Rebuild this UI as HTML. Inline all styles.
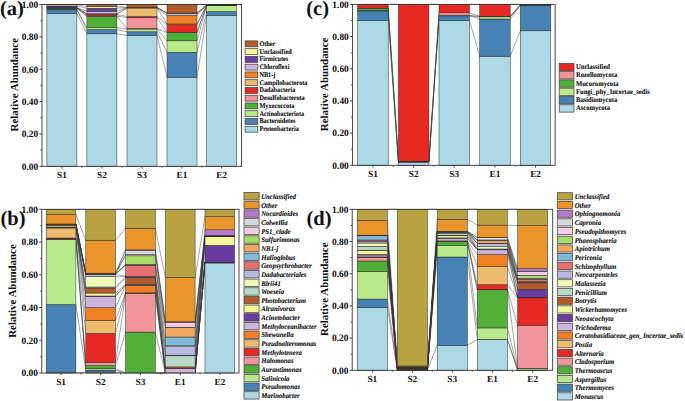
<!DOCTYPE html>
<html><head><meta charset="utf-8"><title>Relative Abundance</title>
<style>
html,body{margin:0;padding:0;background:#fff;}
body{width:685px;height:401px;overflow:hidden;}
svg{display:block;text-rendering:geometricPrecision;}
text{font-family:"Liberation Serif",serif;font-weight:bold;fill:#111;}
.lg text{stroke:#111;stroke-width:0.12px;}
</style></head>
<body>
<svg width="685" height="401" viewBox="0 0 685 401">
<rect width="685" height="401" fill="#fff"/>
<g stroke="#3a3a3a" stroke-width="0.45" fill="none"><line x1="76.9" y1="13.5" x2="86.9" y2="33.8"/><line x1="76.9" y1="9.8" x2="86.9" y2="29.6"/><line x1="76.9" y1="9.5" x2="86.9" y2="27.6"/><line x1="76.9" y1="8.1" x2="86.9" y2="16.6"/><line x1="76.9" y1="8" x2="86.9" y2="16"/><line x1="76.9" y1="7.9" x2="86.9" y2="14.4"/><line x1="76.9" y1="7.8" x2="86.9" y2="14.1"/><line x1="76.9" y1="7.7" x2="86.9" y2="13.8"/><line x1="76.9" y1="7.6" x2="86.9" y2="11.2"/><line x1="76.9" y1="6" x2="86.9" y2="8.2"/><line x1="76.9" y1="4.8" x2="86.9" y2="6.5"/><line x1="76.9" y1="4.5" x2="86.9" y2="4.5"/><line x1="116.9" y1="33.8" x2="127" y2="35.5"/><line x1="116.9" y1="29.6" x2="127" y2="31.8"/><line x1="116.9" y1="27.6" x2="127" y2="29"/><line x1="116.9" y1="16.6" x2="127" y2="28.5"/><line x1="116.9" y1="16" x2="127" y2="17.8"/><line x1="116.9" y1="14.4" x2="127" y2="16.5"/><line x1="116.9" y1="14.1" x2="127" y2="8"/><line x1="116.9" y1="13.8" x2="127" y2="7.8"/><line x1="116.9" y1="11.2" x2="127" y2="7.6"/><line x1="116.9" y1="8.2" x2="127" y2="7.5"/><line x1="116.9" y1="6.5" x2="127" y2="7.4"/><line x1="116.9" y1="4.5" x2="127" y2="4.5"/><line x1="157" y1="35.5" x2="167" y2="77.2"/><line x1="157" y1="31.8" x2="167" y2="52.3"/><line x1="157" y1="29" x2="167" y2="40.8"/><line x1="157" y1="28.5" x2="167" y2="32.5"/><line x1="157" y1="17.8" x2="167" y2="32.2"/><line x1="157" y1="16.5" x2="167" y2="24.6"/><line x1="157" y1="8" x2="167" y2="24"/><line x1="157" y1="7.8" x2="167" y2="15.6"/><line x1="157" y1="7.6" x2="167" y2="13.4"/><line x1="157" y1="7.5" x2="167" y2="13.2"/><line x1="157" y1="7.4" x2="167" y2="13"/><line x1="157" y1="4.5" x2="167" y2="4.5"/><line x1="197" y1="77.2" x2="206.7" y2="15.3"/><line x1="197" y1="52.3" x2="206.7" y2="11.6"/><line x1="197" y1="40.8" x2="206.7" y2="5.4"/><line x1="197" y1="32.5" x2="206.7" y2="5.3"/><line x1="197" y1="32.2" x2="206.7" y2="5.25"/><line x1="197" y1="24.6" x2="206.7" y2="5.2"/><line x1="197" y1="24" x2="206.7" y2="5.15"/><line x1="197" y1="15.6" x2="206.7" y2="5.1"/><line x1="197" y1="13.4" x2="206.7" y2="5.05"/><line x1="197" y1="13.2" x2="206.7" y2="5"/><line x1="197" y1="13" x2="206.7" y2="4.9"/><line x1="197" y1="4.5" x2="206.7" y2="4.5"/></g><g stroke="#2a2a2a" stroke-width="0.5"><rect x="46.9" y="13.5" width="30" height="152.8" fill="#add8e6"/><rect x="46.9" y="9.8" width="30" height="3.7" fill="#4682b4"/><rect x="46.9" y="9.5" width="30" height="0.3" fill="#b8ea8c"/><rect x="46.9" y="8.1" width="30" height="1.4" fill="#50af37"/><rect x="46.9" y="8" width="30" height="0.1" fill="#f0969b"/><rect x="46.9" y="7.9" width="30" height="0.1" fill="#e62823"/><rect x="46.9" y="7.8" width="30" height="0.1" fill="#eebc6e"/><rect x="46.9" y="7.7" width="30" height="0.1" fill="#f08023"/><rect x="46.9" y="7.6" width="30" height="0.1" fill="#cdb4dc"/><rect x="46.9" y="6" width="30" height="1.6" fill="#693ca0"/><rect x="46.9" y="4.8" width="30" height="1.2" fill="#f5f59a"/><rect x="46.9" y="4.5" width="30" height="0.3" fill="#b25c2d"/><rect x="86.9" y="33.8" width="30" height="132.5" fill="#add8e6"/><rect x="86.9" y="29.6" width="30" height="4.2" fill="#4682b4"/><rect x="86.9" y="27.6" width="30" height="2" fill="#b8ea8c"/><rect x="86.9" y="16.6" width="30" height="11" fill="#50af37"/><rect x="86.9" y="16" width="30" height="0.6" fill="#f0969b"/><rect x="86.9" y="14.4" width="30" height="1.6" fill="#e62823"/><rect x="86.9" y="14.1" width="30" height="0.3" fill="#eebc6e"/><rect x="86.9" y="13.8" width="30" height="0.3" fill="#f08023"/><rect x="86.9" y="11.2" width="30" height="2.6" fill="#cdb4dc"/><rect x="86.9" y="8.2" width="30" height="3" fill="#693ca0"/><rect x="86.9" y="6.5" width="30" height="1.7" fill="#f5f59a"/><rect x="86.9" y="4.5" width="30" height="2" fill="#b25c2d"/><rect x="127" y="35.5" width="30" height="130.8" fill="#add8e6"/><rect x="127" y="31.8" width="30" height="3.7" fill="#4682b4"/><rect x="127" y="29" width="30" height="2.8" fill="#b8ea8c"/><rect x="127" y="28.5" width="30" height="0.5" fill="#50af37"/><rect x="127" y="17.8" width="30" height="10.7" fill="#f0969b"/><rect x="127" y="16.5" width="30" height="1.3" fill="#e62823"/><rect x="127" y="8" width="30" height="8.5" fill="#eebc6e"/><rect x="127" y="7.8" width="30" height="0.2" fill="#f08023"/><rect x="127" y="7.6" width="30" height="0.2" fill="#cdb4dc"/><rect x="127" y="7.5" width="30" height="0.1" fill="#693ca0"/><rect x="127" y="7.4" width="30" height="0.1" fill="#f5f59a"/><rect x="127" y="4.5" width="30" height="2.9" fill="#b25c2d"/><rect x="167" y="77.2" width="30" height="89.1" fill="#add8e6"/><rect x="167" y="52.3" width="30" height="24.9" fill="#4682b4"/><rect x="167" y="40.8" width="30" height="11.5" fill="#b8ea8c"/><rect x="167" y="32.5" width="30" height="8.3" fill="#50af37"/><rect x="167" y="32.2" width="30" height="0.3" fill="#f0969b"/><rect x="167" y="24.6" width="30" height="7.6" fill="#e62823"/><rect x="167" y="24" width="30" height="0.6" fill="#eebc6e"/><rect x="167" y="15.6" width="30" height="8.4" fill="#f08023"/><rect x="167" y="13.4" width="30" height="2.2" fill="#cdb4dc"/><rect x="167" y="13.2" width="30" height="0.2" fill="#693ca0"/><rect x="167" y="13" width="30" height="0.2" fill="#f5f59a"/><rect x="167" y="4.5" width="30" height="8.5" fill="#b25c2d"/><rect x="206.7" y="15.3" width="30" height="151" fill="#add8e6"/><rect x="206.7" y="11.6" width="30" height="3.7" fill="#4682b4"/><rect x="206.7" y="5.4" width="30" height="6.2" fill="#b8ea8c"/><rect x="206.7" y="5.3" width="30" height="0.1" fill="#50af37"/><rect x="206.7" y="5.25" width="30" height="0.05" fill="#f0969b"/><rect x="206.7" y="5.2" width="30" height="0.05" fill="#e62823"/><rect x="206.7" y="5.15" width="30" height="0.05" fill="#eebc6e"/><rect x="206.7" y="5.1" width="30" height="0.05" fill="#f08023"/><rect x="206.7" y="5.05" width="30" height="0.05" fill="#cdb4dc"/><rect x="206.7" y="5" width="30" height="0.05" fill="#693ca0"/><rect x="206.7" y="4.9" width="30" height="0.1" fill="#f5f59a"/><rect x="206.7" y="4.5" width="30" height="0.4" fill="#b25c2d"/></g><rect x="42" y="4.5" width="199.6" height="161.8" fill="none" stroke="#333" stroke-width="0.9"/><path d="M39.4 166.3H42M40.5 150.12H42M39.4 133.94H42M40.5 117.76H42M39.4 101.58H42M40.5 85.4H42M39.4 69.22H42M40.5 53.04H42M39.4 36.86H42M40.5 20.68H42M39.4 4.5H42M61.9 166.3V168.5M81.9 166.3V167.7M101.9 166.3V168.5M121.95 166.3V167.7M142 166.3V168.5M162 166.3V167.7M182 166.3V168.5M201.85 166.3V167.7M221.7 166.3V168.5" stroke="#333" stroke-width="0.9" fill="none"/><text transform="translate(38.2 169.6) scale(0.96 1)" text-anchor="end" font-size="9.8">0.00</text><text transform="translate(38.2 137.24) scale(0.96 1)" text-anchor="end" font-size="9.8">0.20</text><text transform="translate(38.2 104.88) scale(0.96 1)" text-anchor="end" font-size="9.8">0.40</text><text transform="translate(38.2 72.52) scale(0.96 1)" text-anchor="end" font-size="9.8">0.60</text><text transform="translate(38.2 40.16) scale(0.96 1)" text-anchor="end" font-size="9.8">0.80</text><text transform="translate(38.2 7.8) scale(0.96 1)" text-anchor="end" font-size="9.8">1.00</text><text transform="translate(61.9 177.8) scale(1.0 1)" text-anchor="middle" font-size="9.3">S1</text><text transform="translate(101.9 177.8) scale(1.0 1)" text-anchor="middle" font-size="9.3">S2</text><text transform="translate(142 177.8) scale(1.0 1)" text-anchor="middle" font-size="9.3">S3</text><text transform="translate(182 177.8) scale(1.0 1)" text-anchor="middle" font-size="9.3">E1</text><text transform="translate(221.7 177.8) scale(1.0 1)" text-anchor="middle" font-size="9.3">E2</text><text transform="translate(18.4 84.7) rotate(-90)" text-anchor="middle" font-size="10.9">Relative Abundance</text><text x="0" y="15" font-size="20.5">(a)</text><g class="lg"><rect x="245.1" y="40.9" width="12.7" height="5.9" fill="#b25c2d" stroke="#444" stroke-width="0.75"/><text transform="translate(259.4 45.84) scale(0.88 1)" font-size="7.1">Other</text><rect x="245.1" y="48.66" width="12.7" height="5.9" fill="#f5f59a" stroke="#444" stroke-width="0.75"/><text transform="translate(259.4 53.6) scale(0.88 1)" font-size="7.1">Unclassified</text><rect x="245.1" y="56.42" width="12.7" height="5.9" fill="#693ca0" stroke="#444" stroke-width="0.75"/><text transform="translate(259.4 61.36) scale(0.88 1)" font-size="7.1">Firmicutes</text><rect x="245.1" y="64.18" width="12.7" height="5.9" fill="#cdb4dc" stroke="#444" stroke-width="0.75"/><text transform="translate(259.4 69.12) scale(0.88 1)" font-size="7.1">Chloroflexi</text><rect x="245.1" y="71.94" width="12.7" height="5.9" fill="#f08023" stroke="#444" stroke-width="0.75"/><text transform="translate(259.4 76.88) scale(0.88 1)" font-size="7.1">NB1-j</text><rect x="245.1" y="79.7" width="12.7" height="5.9" fill="#eebc6e" stroke="#444" stroke-width="0.75"/><text transform="translate(259.4 84.64) scale(0.88 1)" font-size="7.1">Campilobacterota</text><rect x="245.1" y="87.46" width="12.7" height="5.9" fill="#e62823" stroke="#444" stroke-width="0.75"/><text transform="translate(259.4 92.4) scale(0.88 1)" font-size="7.1">Dadabacteria</text><rect x="245.1" y="95.22" width="12.7" height="5.9" fill="#f0969b" stroke="#444" stroke-width="0.75"/><text transform="translate(259.4 100.16) scale(0.88 1)" font-size="7.1">Desulfobacterota</text><rect x="245.1" y="102.98" width="12.7" height="5.9" fill="#50af37" stroke="#444" stroke-width="0.75"/><text transform="translate(259.4 107.92) scale(0.88 1)" font-size="7.1">Myxococcota</text><rect x="245.1" y="110.74" width="12.7" height="5.9" fill="#b8ea8c" stroke="#444" stroke-width="0.75"/><text transform="translate(259.4 115.68) scale(0.88 1)" font-size="7.1">Actinobacteriota</text><rect x="245.1" y="118.5" width="12.7" height="5.9" fill="#4682b4" stroke="#444" stroke-width="0.75"/><text transform="translate(259.4 123.44) scale(0.88 1)" font-size="7.1">Bacteroidetes</text><rect x="245.1" y="126.26" width="12.7" height="5.9" fill="#add8e6" stroke="#444" stroke-width="0.75"/><text transform="translate(259.4 131.2) scale(0.88 1)" font-size="7.1">Proteobacteria</text></g><g stroke="#3a3a3a" stroke-width="0.45" fill="none"><line x1="75.9" y1="372.8" x2="85.8" y2="372"/><line x1="75.9" y1="304.5" x2="85.8" y2="370.1"/><line x1="75.9" y1="239.2" x2="85.8" y2="368.6"/><line x1="75.9" y1="239.1" x2="85.8" y2="365.7"/><line x1="75.9" y1="239" x2="85.8" y2="362.2"/><line x1="75.9" y1="238" x2="85.8" y2="333.4"/><line x1="75.9" y1="228" x2="85.8" y2="320.3"/><line x1="75.9" y1="227.7" x2="85.8" y2="307.7"/><line x1="75.9" y1="227.4" x2="85.8" y2="296.5"/><line x1="75.9" y1="227.1" x2="85.8" y2="296"/><line x1="75.9" y1="225.9" x2="85.8" y2="293"/><line x1="75.9" y1="224.6" x2="85.8" y2="288"/><line x1="75.9" y1="224.55" x2="85.8" y2="287"/><line x1="75.9" y1="224.5" x2="85.8" y2="276.7"/><line x1="75.9" y1="224.45" x2="85.8" y2="274.5"/><line x1="75.9" y1="224.4" x2="85.8" y2="274.4"/><line x1="75.9" y1="224.35" x2="85.8" y2="274.2"/><line x1="75.9" y1="224.3" x2="85.8" y2="274"/><line x1="75.9" y1="224.25" x2="85.8" y2="273.8"/><line x1="75.9" y1="224.2" x2="85.8" y2="273.6"/><line x1="75.9" y1="224.1" x2="85.8" y2="273.4"/><line x1="75.9" y1="224" x2="85.8" y2="273.2"/><line x1="75.9" y1="214.6" x2="85.8" y2="240.2"/><line x1="75.9" y1="209.3" x2="85.8" y2="209.3"/><line x1="115.5" y1="372" x2="125.6" y2="373"/><line x1="115.5" y1="370.1" x2="125.6" y2="373"/><line x1="115.5" y1="368.6" x2="125.6" y2="373"/><line x1="115.5" y1="365.7" x2="125.6" y2="332.1"/><line x1="115.5" y1="362.2" x2="125.6" y2="293.6"/><line x1="115.5" y1="333.4" x2="125.6" y2="293.3"/><line x1="115.5" y1="320.3" x2="125.6" y2="292.8"/><line x1="115.5" y1="307.7" x2="125.6" y2="285.7"/><line x1="115.5" y1="296.5" x2="125.6" y2="285.2"/><line x1="115.5" y1="296" x2="125.6" y2="284.7"/><line x1="115.5" y1="293" x2="125.6" y2="284.2"/><line x1="115.5" y1="288" x2="125.6" y2="277.8"/><line x1="115.5" y1="287" x2="125.6" y2="277.2"/><line x1="115.5" y1="276.7" x2="125.6" y2="276.7"/><line x1="115.5" y1="274.5" x2="125.6" y2="276.2"/><line x1="115.5" y1="274.4" x2="125.6" y2="265.2"/><line x1="115.5" y1="274.2" x2="125.6" y2="264.9"/><line x1="115.5" y1="274" x2="125.6" y2="264.6"/><line x1="115.5" y1="273.8" x2="125.6" y2="255.8"/><line x1="115.5" y1="273.6" x2="125.6" y2="254.6"/><line x1="115.5" y1="273.4" x2="125.6" y2="250.2"/><line x1="115.5" y1="273.2" x2="125.6" y2="249.9"/><line x1="115.5" y1="240.2" x2="125.6" y2="228.2"/><line x1="115.5" y1="209.3" x2="125.6" y2="209.3"/><line x1="155.3" y1="373" x2="165.4" y2="373"/><line x1="155.3" y1="373" x2="165.4" y2="373"/><line x1="155.3" y1="373" x2="165.4" y2="373"/><line x1="155.3" y1="332.1" x2="165.4" y2="373"/><line x1="155.3" y1="293.6" x2="165.4" y2="373"/><line x1="155.3" y1="293.3" x2="165.4" y2="373"/><line x1="155.3" y1="292.8" x2="165.4" y2="373"/><line x1="155.3" y1="285.7" x2="165.4" y2="373"/><line x1="155.3" y1="285.2" x2="165.4" y2="368.6"/><line x1="155.3" y1="284.7" x2="165.4" y2="368.5"/><line x1="155.3" y1="284.2" x2="165.4" y2="368.4"/><line x1="155.3" y1="277.8" x2="165.4" y2="366.9"/><line x1="155.3" y1="277.2" x2="165.4" y2="355.8"/><line x1="155.3" y1="276.7" x2="165.4" y2="355.2"/><line x1="155.3" y1="276.2" x2="165.4" y2="346"/><line x1="155.3" y1="265.2" x2="165.4" y2="345.8"/><line x1="155.3" y1="264.9" x2="165.4" y2="337"/><line x1="155.3" y1="264.6" x2="165.4" y2="327.4"/><line x1="155.3" y1="255.8" x2="165.4" y2="327.2"/><line x1="155.3" y1="254.6" x2="165.4" y2="322.2"/><line x1="155.3" y1="250.2" x2="165.4" y2="322"/><line x1="155.3" y1="249.9" x2="165.4" y2="321.8"/><line x1="155.3" y1="228.2" x2="165.4" y2="277.5"/><line x1="155.3" y1="209.3" x2="165.4" y2="209.3"/><line x1="195.1" y1="373" x2="205" y2="263"/><line x1="195.1" y1="373" x2="205" y2="262.8"/><line x1="195.1" y1="373" x2="205" y2="262.7"/><line x1="195.1" y1="373" x2="205" y2="262.6"/><line x1="195.1" y1="373" x2="205" y2="262.5"/><line x1="195.1" y1="373" x2="205" y2="262.4"/><line x1="195.1" y1="373" x2="205" y2="262.3"/><line x1="195.1" y1="373" x2="205" y2="262.2"/><line x1="195.1" y1="368.6" x2="205" y2="262.1"/><line x1="195.1" y1="368.5" x2="205" y2="245.3"/><line x1="195.1" y1="368.4" x2="205" y2="236.6"/><line x1="195.1" y1="366.9" x2="205" y2="236.5"/><line x1="195.1" y1="355.8" x2="205" y2="236.4"/><line x1="195.1" y1="355.2" x2="205" y2="236.3"/><line x1="195.1" y1="346" x2="205" y2="236.2"/><line x1="195.1" y1="345.8" x2="205" y2="236.1"/><line x1="195.1" y1="337" x2="205" y2="236"/><line x1="195.1" y1="327.4" x2="205" y2="235.9"/><line x1="195.1" y1="327.2" x2="205" y2="235.8"/><line x1="195.1" y1="322.2" x2="205" y2="235.7"/><line x1="195.1" y1="322" x2="205" y2="235.6"/><line x1="195.1" y1="321.8" x2="205" y2="229.8"/><line x1="195.1" y1="277.5" x2="205" y2="216.5"/><line x1="195.1" y1="209.3" x2="205" y2="209.3"/></g><g stroke="#2a2a2a" stroke-width="0.5"><rect x="46.2" y="372.8" width="29.7" height="0.2" fill="#add8e6"/><rect x="46.2" y="304.5" width="29.7" height="68.3" fill="#4682b4"/><rect x="46.2" y="239.2" width="29.7" height="65.3" fill="#b8ea8c"/><rect x="46.2" y="239.1" width="29.7" height="0.1" fill="#50af37"/><rect x="46.2" y="239" width="29.7" height="0.1" fill="#f0969b"/><rect x="46.2" y="238" width="29.7" height="1" fill="#e62823"/><rect x="46.2" y="228" width="29.7" height="10" fill="#eebc6e"/><rect x="46.2" y="227.7" width="29.7" height="0.3" fill="#f08023"/><rect x="46.2" y="227.4" width="29.7" height="0.3" fill="#cdb4dc"/><rect x="46.2" y="227.1" width="29.7" height="0.3" fill="#693ca0"/><rect x="46.2" y="225.9" width="29.7" height="1.2" fill="#f5f59a"/><rect x="46.2" y="224.6" width="29.7" height="1.3" fill="#b25c2d"/><rect x="46.2" y="224.55" width="29.7" height="0.05" fill="#b8d8c8"/><rect x="46.2" y="224.5" width="29.7" height="0.05" fill="#f0f8b8"/><rect x="46.2" y="224.45" width="29.7" height="0.05" fill="#b8b8e0"/><rect x="46.2" y="224.4" width="29.7" height="0.05" fill="#e87070"/><rect x="46.2" y="224.35" width="29.7" height="0.05" fill="#80b8d8"/><rect x="46.2" y="224.3" width="29.7" height="0.05" fill="#f0a860"/><rect x="46.2" y="224.25" width="29.7" height="0.05" fill="#a8dc68"/><rect x="46.2" y="224.2" width="29.7" height="0.05" fill="#f5cce5"/><rect x="46.2" y="224.1" width="29.7" height="0.1" fill="#d8d8d8"/><rect x="46.2" y="224" width="29.7" height="0.1" fill="#b878c8"/><rect x="46.2" y="214.6" width="29.7" height="9.4" fill="#ea942c"/><rect x="46.2" y="209.3" width="29.7" height="5.3" fill="#b9a241"/><rect x="85.8" y="372" width="29.7" height="1" fill="#add8e6"/><rect x="85.8" y="370.1" width="29.7" height="1.9" fill="#4682b4"/><rect x="85.8" y="368.6" width="29.7" height="1.5" fill="#b8ea8c"/><rect x="85.8" y="365.7" width="29.7" height="2.9" fill="#50af37"/><rect x="85.8" y="362.2" width="29.7" height="3.5" fill="#f0969b"/><rect x="85.8" y="333.4" width="29.7" height="28.8" fill="#e62823"/><rect x="85.8" y="320.3" width="29.7" height="13.1" fill="#eebc6e"/><rect x="85.8" y="307.7" width="29.7" height="12.6" fill="#f08023"/><rect x="85.8" y="296.5" width="29.7" height="11.2" fill="#cdb4dc"/><rect x="85.8" y="296" width="29.7" height="0.5" fill="#693ca0"/><rect x="85.8" y="293" width="29.7" height="3" fill="#f5f59a"/><rect x="85.8" y="288" width="29.7" height="5" fill="#b25c2d"/><rect x="85.8" y="287" width="29.7" height="1" fill="#b8d8c8"/><rect x="85.8" y="276.7" width="29.7" height="10.3" fill="#f0f8b8"/><rect x="85.8" y="274.5" width="29.7" height="2.2" fill="#b8b8e0"/><rect x="85.8" y="274.4" width="29.7" height="0.1" fill="#e87070"/><rect x="85.8" y="274.2" width="29.7" height="0.2" fill="#80b8d8"/><rect x="85.8" y="274" width="29.7" height="0.2" fill="#f0a860"/><rect x="85.8" y="273.8" width="29.7" height="0.2" fill="#a8dc68"/><rect x="85.8" y="273.6" width="29.7" height="0.2" fill="#f5cce5"/><rect x="85.8" y="273.4" width="29.7" height="0.2" fill="#d8d8d8"/><rect x="85.8" y="273.2" width="29.7" height="0.2" fill="#b878c8"/><rect x="85.8" y="240.2" width="29.7" height="33" fill="#ea942c"/><rect x="85.8" y="209.3" width="29.7" height="30.9" fill="#b9a241"/><rect x="125.6" y="332.1" width="29.7" height="40.9" fill="#50af37"/><rect x="125.6" y="293.6" width="29.7" height="38.5" fill="#f0969b"/><rect x="125.6" y="293.3" width="29.7" height="0.3" fill="#e62823"/><rect x="125.6" y="292.8" width="29.7" height="0.5" fill="#eebc6e"/><rect x="125.6" y="285.7" width="29.7" height="7.1" fill="#f08023"/><rect x="125.6" y="285.2" width="29.7" height="0.5" fill="#cdb4dc"/><rect x="125.6" y="284.7" width="29.7" height="0.5" fill="#693ca0"/><rect x="125.6" y="284.2" width="29.7" height="0.5" fill="#f5f59a"/><rect x="125.6" y="277.8" width="29.7" height="6.4" fill="#b25c2d"/><rect x="125.6" y="277.2" width="29.7" height="0.6" fill="#b8d8c8"/><rect x="125.6" y="276.7" width="29.7" height="0.5" fill="#f0f8b8"/><rect x="125.6" y="276.2" width="29.7" height="0.5" fill="#b8b8e0"/><rect x="125.6" y="265.2" width="29.7" height="11" fill="#e87070"/><rect x="125.6" y="264.9" width="29.7" height="0.3" fill="#80b8d8"/><rect x="125.6" y="264.6" width="29.7" height="0.3" fill="#f0a860"/><rect x="125.6" y="255.8" width="29.7" height="8.8" fill="#a8dc68"/><rect x="125.6" y="254.6" width="29.7" height="1.2" fill="#f5cce5"/><rect x="125.6" y="250.2" width="29.7" height="4.4" fill="#d8d8d8"/><rect x="125.6" y="249.9" width="29.7" height="0.3" fill="#b878c8"/><rect x="125.6" y="228.2" width="29.7" height="21.7" fill="#ea942c"/><rect x="125.6" y="209.3" width="29.7" height="18.9" fill="#b9a241"/><rect x="165.4" y="368.6" width="29.7" height="4.4" fill="#cdb4dc"/><rect x="165.4" y="368.5" width="29.7" height="0.1" fill="#693ca0"/><rect x="165.4" y="368.4" width="29.7" height="0.1" fill="#f5f59a"/><rect x="165.4" y="366.9" width="29.7" height="1.5" fill="#b25c2d"/><rect x="165.4" y="355.8" width="29.7" height="11.1" fill="#b8d8c8"/><rect x="165.4" y="355.2" width="29.7" height="0.6" fill="#f0f8b8"/><rect x="165.4" y="346" width="29.7" height="9.2" fill="#b8b8e0"/><rect x="165.4" y="345.8" width="29.7" height="0.2" fill="#e87070"/><rect x="165.4" y="337" width="29.7" height="8.8" fill="#80b8d8"/><rect x="165.4" y="327.4" width="29.7" height="9.6" fill="#f0a860"/><rect x="165.4" y="327.2" width="29.7" height="0.2" fill="#a8dc68"/><rect x="165.4" y="322.2" width="29.7" height="5" fill="#f5cce5"/><rect x="165.4" y="322" width="29.7" height="0.2" fill="#d8d8d8"/><rect x="165.4" y="321.8" width="29.7" height="0.2" fill="#b878c8"/><rect x="165.4" y="277.5" width="29.7" height="44.3" fill="#ea942c"/><rect x="165.4" y="209.3" width="29.7" height="68.2" fill="#b9a241"/><rect x="205" y="263" width="29.7" height="110" fill="#add8e6"/><rect x="205" y="262.8" width="29.7" height="0.2" fill="#4682b4"/><rect x="205" y="262.7" width="29.7" height="0.1" fill="#b8ea8c"/><rect x="205" y="262.6" width="29.7" height="0.1" fill="#50af37"/><rect x="205" y="262.5" width="29.7" height="0.1" fill="#f0969b"/><rect x="205" y="262.4" width="29.7" height="0.1" fill="#e62823"/><rect x="205" y="262.3" width="29.7" height="0.1" fill="#eebc6e"/><rect x="205" y="262.2" width="29.7" height="0.1" fill="#f08023"/><rect x="205" y="262.1" width="29.7" height="0.1" fill="#cdb4dc"/><rect x="205" y="245.3" width="29.7" height="16.8" fill="#693ca0"/><rect x="205" y="236.6" width="29.7" height="8.7" fill="#f5f59a"/><rect x="205" y="236.5" width="29.7" height="0.1" fill="#b25c2d"/><rect x="205" y="236.4" width="29.7" height="0.1" fill="#b8d8c8"/><rect x="205" y="236.3" width="29.7" height="0.1" fill="#f0f8b8"/><rect x="205" y="236.2" width="29.7" height="0.1" fill="#b8b8e0"/><rect x="205" y="236.1" width="29.7" height="0.1" fill="#e87070"/><rect x="205" y="236" width="29.7" height="0.1" fill="#80b8d8"/><rect x="205" y="235.9" width="29.7" height="0.1" fill="#f0a860"/><rect x="205" y="235.8" width="29.7" height="0.1" fill="#a8dc68"/><rect x="205" y="235.7" width="29.7" height="0.1" fill="#f5cce5"/><rect x="205" y="235.6" width="29.7" height="0.1" fill="#d8d8d8"/><rect x="205" y="229.8" width="29.7" height="5.8" fill="#b878c8"/><rect x="205" y="216.5" width="29.7" height="13.3" fill="#ea942c"/><rect x="205" y="209.3" width="29.7" height="7.2" fill="#b9a241"/></g><rect x="41.8" y="209.3" width="197.2" height="163.7" fill="none" stroke="#333" stroke-width="0.9"/><path d="M39.2 373H41.8M40.3 356.63H41.8M39.2 340.26H41.8M40.3 323.89H41.8M39.2 307.52H41.8M40.3 291.15H41.8M39.2 274.78H41.8M40.3 258.41H41.8M39.2 242.04H41.8M40.3 225.67H41.8M39.2 209.3H41.8M61.05 373V375.2M80.85 373V374.4M100.65 373V375.2M120.55 373V374.4M140.45 373V375.2M160.35 373V374.4M180.25 373V375.2M200.05 373V374.4M219.85 373V375.2" stroke="#333" stroke-width="0.9" fill="none"/><text transform="translate(38 376.3) scale(0.96 1)" text-anchor="end" font-size="9.8">0.00</text><text transform="translate(38 343.56) scale(0.96 1)" text-anchor="end" font-size="9.8">0.20</text><text transform="translate(38 310.82) scale(0.96 1)" text-anchor="end" font-size="9.8">0.40</text><text transform="translate(38 278.08) scale(0.96 1)" text-anchor="end" font-size="9.8">0.60</text><text transform="translate(38 245.34) scale(0.96 1)" text-anchor="end" font-size="9.8">0.80</text><text transform="translate(38 212.6) scale(0.96 1)" text-anchor="end" font-size="9.8">1.00</text><text transform="translate(61.05 384.5) scale(1.0 1)" text-anchor="middle" font-size="9.3">S1</text><text transform="translate(100.65 384.5) scale(1.0 1)" text-anchor="middle" font-size="9.3">S2</text><text transform="translate(140.45 384.5) scale(1.0 1)" text-anchor="middle" font-size="9.3">S3</text><text transform="translate(180.25 384.5) scale(1.0 1)" text-anchor="middle" font-size="9.3">E1</text><text transform="translate(219.85 384.5) scale(1.0 1)" text-anchor="middle" font-size="9.3">E2</text><text transform="translate(16.4 291) rotate(-90)" text-anchor="middle" font-size="10.9">Relative Abundance</text><text x="0.5" y="225" font-size="20.5">(b)</text><g class="lg"><rect x="244" y="192.5" width="15.1" height="7.4" fill="#b9a241" stroke="#444" stroke-width="0.75"/><text transform="translate(261.2 198.9) scale(0.93 1)" font-size="7.3" font-style="italic">Unclassified</text><rect x="244" y="201.16" width="15.1" height="7.4" fill="#ea942c" stroke="#444" stroke-width="0.75"/><text transform="translate(261.2 207.56) scale(0.93 1)" font-size="7.3" font-style="italic">Other</text><rect x="244" y="209.82" width="15.1" height="7.4" fill="#b878c8" stroke="#444" stroke-width="0.75"/><text transform="translate(261.2 216.22) scale(0.93 1)" font-size="7.3" font-style="italic">Nocardioides</text><rect x="244" y="218.48" width="15.1" height="7.4" fill="#d8d8d8" stroke="#444" stroke-width="0.75"/><text transform="translate(261.2 224.88) scale(0.93 1)" font-size="7.3" font-style="italic">Colwellia</text><rect x="244" y="227.14" width="15.1" height="7.4" fill="#f5cce5" stroke="#444" stroke-width="0.75"/><text transform="translate(261.2 233.54) scale(0.93 1)" font-size="7.3" font-style="italic">PS1_clade</text><rect x="244" y="235.8" width="15.1" height="7.4" fill="#a8dc68" stroke="#444" stroke-width="0.75"/><text transform="translate(261.2 242.2) scale(0.93 1)" font-size="7.3" font-style="italic">Sulfurimonas</text><rect x="244" y="244.46" width="15.1" height="7.4" fill="#f0a860" stroke="#444" stroke-width="0.75"/><text transform="translate(261.2 250.86) scale(0.93 1)" font-size="7.3" font-style="italic">NB1-j</text><rect x="244" y="253.12" width="15.1" height="7.4" fill="#80b8d8" stroke="#444" stroke-width="0.75"/><text transform="translate(261.2 259.52) scale(0.93 1)" font-size="7.3" font-style="italic">Halioglobus</text><rect x="244" y="261.78" width="15.1" height="7.4" fill="#e87070" stroke="#444" stroke-width="0.75"/><text transform="translate(261.2 268.18) scale(0.93 1)" font-size="7.3" font-style="italic">Geopsychrobacter</text><rect x="244" y="270.44" width="15.1" height="7.4" fill="#b8b8e0" stroke="#444" stroke-width="0.75"/><text transform="translate(261.2 276.84) scale(0.93 1)" font-size="7.3" font-style="italic">Dadabacteriales</text><rect x="244" y="279.1" width="15.1" height="7.4" fill="#f0f8b8" stroke="#444" stroke-width="0.75"/><text transform="translate(261.2 285.5) scale(0.93 1)" font-size="7.3" font-style="italic">Blrii41</text><rect x="244" y="287.76" width="15.1" height="7.4" fill="#b8d8c8" stroke="#444" stroke-width="0.75"/><text transform="translate(261.2 294.16) scale(0.93 1)" font-size="7.3" font-style="italic">Woeseia</text><rect x="244" y="296.42" width="15.1" height="7.4" fill="#b25c2d" stroke="#444" stroke-width="0.75"/><text transform="translate(261.2 302.82) scale(0.93 1)" font-size="7.3" font-style="italic">Photobacterium</text><rect x="244" y="305.08" width="15.1" height="7.4" fill="#f5f59a" stroke="#444" stroke-width="0.75"/><text transform="translate(261.2 311.48) scale(0.93 1)" font-size="7.3" font-style="italic">Alcanivorax</text><rect x="244" y="313.74" width="15.1" height="7.4" fill="#693ca0" stroke="#444" stroke-width="0.75"/><text transform="translate(261.2 320.14) scale(0.93 1)" font-size="7.3" font-style="italic">Acinetobacter</text><rect x="244" y="322.4" width="15.1" height="7.4" fill="#cdb4dc" stroke="#444" stroke-width="0.75"/><text transform="translate(261.2 328.8) scale(0.93 1)" font-size="7.3" font-style="italic">Methyloceanibacter</text><rect x="244" y="331.06" width="15.1" height="7.4" fill="#f08023" stroke="#444" stroke-width="0.75"/><text transform="translate(261.2 337.46) scale(0.93 1)" font-size="7.3" font-style="italic">Shewanella</text><rect x="244" y="339.72" width="15.1" height="7.4" fill="#eebc6e" stroke="#444" stroke-width="0.75"/><text transform="translate(261.2 346.12) scale(0.93 1)" font-size="7.3" font-style="italic">Pseudoalteromonas</text><rect x="244" y="348.38" width="15.1" height="7.4" fill="#e62823" stroke="#444" stroke-width="0.75"/><text transform="translate(261.2 354.78) scale(0.93 1)" font-size="7.3" font-style="italic">Methylotenera</text><rect x="244" y="357.04" width="15.1" height="7.4" fill="#f0969b" stroke="#444" stroke-width="0.75"/><text transform="translate(261.2 363.44) scale(0.93 1)" font-size="7.3" font-style="italic">Halomonas</text><rect x="244" y="365.7" width="15.1" height="7.4" fill="#50af37" stroke="#444" stroke-width="0.75"/><text transform="translate(261.2 372.1) scale(0.93 1)" font-size="7.3" font-style="italic">Aurantimonas</text><rect x="244" y="374.36" width="15.1" height="7.4" fill="#b8ea8c" stroke="#444" stroke-width="0.75"/><text transform="translate(261.2 380.76) scale(0.93 1)" font-size="7.3" font-style="italic">Salinicola</text><rect x="244" y="383.02" width="15.1" height="7.4" fill="#4682b4" stroke="#444" stroke-width="0.75"/><text transform="translate(261.2 389.42) scale(0.93 1)" font-size="7.3" font-style="italic">Pseudomonas</text><rect x="244" y="391.68" width="15.1" height="7.4" fill="#add8e6" stroke="#444" stroke-width="0.75"/><text transform="translate(261.2 398.08) scale(0.93 1)" font-size="7.3" font-style="italic">Marinobacter</text></g><g stroke="#3a3a3a" stroke-width="0.45" fill="none"><line x1="388.2" y1="20.5" x2="398.4" y2="162.4"/><line x1="388.2" y1="10.9" x2="398.4" y2="161.5"/><line x1="388.2" y1="10.4" x2="398.4" y2="161.4"/><line x1="388.2" y1="8.3" x2="398.4" y2="161.3"/><line x1="388.2" y1="8.1" x2="398.4" y2="161.2"/><line x1="388.2" y1="4.4" x2="398.4" y2="4.4"/><line x1="428.9" y1="162.4" x2="439" y2="20.5"/><line x1="428.9" y1="161.5" x2="439" y2="15.9"/><line x1="428.9" y1="161.4" x2="439" y2="15.7"/><line x1="428.9" y1="161.3" x2="439" y2="15.5"/><line x1="428.9" y1="161.2" x2="439" y2="12.8"/><line x1="428.9" y1="4.4" x2="439" y2="4.4"/><line x1="469.5" y1="20.5" x2="479.7" y2="56.2"/><line x1="469.5" y1="15.9" x2="479.7" y2="19"/><line x1="469.5" y1="15.7" x2="479.7" y2="16.8"/><line x1="469.5" y1="15.5" x2="479.7" y2="16.5"/><line x1="469.5" y1="12.8" x2="479.7" y2="16.3"/><line x1="469.5" y1="4.4" x2="479.7" y2="4.4"/><line x1="510.2" y1="56.2" x2="520.3" y2="30.8"/><line x1="510.2" y1="19" x2="520.3" y2="5.4"/><line x1="510.2" y1="16.8" x2="520.3" y2="5.2"/><line x1="510.2" y1="16.5" x2="520.3" y2="5"/><line x1="510.2" y1="16.3" x2="520.3" y2="4.9"/><line x1="510.2" y1="4.4" x2="520.3" y2="4.4"/></g><g stroke="#2a2a2a" stroke-width="0.5"><rect x="357.7" y="20.5" width="30.5" height="144.8" fill="#add8e6"/><rect x="357.7" y="10.9" width="30.5" height="9.6" fill="#4682b4"/><rect x="357.7" y="10.4" width="30.5" height="0.5" fill="#b8ea8c"/><rect x="357.7" y="8.3" width="30.5" height="2.1" fill="#50af37"/><rect x="357.7" y="8.1" width="30.5" height="0.2" fill="#f0969b"/><rect x="357.7" y="4.4" width="30.5" height="3.7" fill="#e62823"/><rect x="398.4" y="162.4" width="30.5" height="2.9" fill="#add8e6"/><rect x="398.4" y="161.5" width="30.5" height="0.9" fill="#4682b4"/><rect x="398.4" y="161.4" width="30.5" height="0.1" fill="#b8ea8c"/><rect x="398.4" y="161.3" width="30.5" height="0.1" fill="#50af37"/><rect x="398.4" y="161.2" width="30.5" height="0.1" fill="#f0969b"/><rect x="398.4" y="4.4" width="30.5" height="156.8" fill="#e62823"/><rect x="439" y="20.5" width="30.5" height="144.8" fill="#add8e6"/><rect x="439" y="15.9" width="30.5" height="4.6" fill="#4682b4"/><rect x="439" y="15.7" width="30.5" height="0.2" fill="#b8ea8c"/><rect x="439" y="15.5" width="30.5" height="0.2" fill="#50af37"/><rect x="439" y="12.8" width="30.5" height="2.7" fill="#f0969b"/><rect x="439" y="4.4" width="30.5" height="8.4" fill="#e62823"/><rect x="479.7" y="56.2" width="30.5" height="109.1" fill="#add8e6"/><rect x="479.7" y="19" width="30.5" height="37.2" fill="#4682b4"/><rect x="479.7" y="16.8" width="30.5" height="2.2" fill="#b8ea8c"/><rect x="479.7" y="16.5" width="30.5" height="0.3" fill="#50af37"/><rect x="479.7" y="16.3" width="30.5" height="0.2" fill="#f0969b"/><rect x="479.7" y="4.4" width="30.5" height="11.9" fill="#e62823"/><rect x="520.3" y="30.8" width="30.5" height="134.5" fill="#add8e6"/><rect x="520.3" y="5.4" width="30.5" height="25.4" fill="#4682b4"/><rect x="520.3" y="5.2" width="30.5" height="0.2" fill="#b8ea8c"/><rect x="520.3" y="5" width="30.5" height="0.2" fill="#50af37"/><rect x="520.3" y="4.9" width="30.5" height="0.1" fill="#f0969b"/><rect x="520.3" y="4.4" width="30.5" height="0.5" fill="#e62823"/></g><rect x="352.6" y="4.4" width="202.5" height="160.9" fill="none" stroke="#333" stroke-width="0.9"/><path d="M350 165.3H352.6M351.1 149.21H352.6M350 133.12H352.6M351.1 117.03H352.6M350 100.94H352.6M351.1 84.85H352.6M350 68.76H352.6M351.1 52.67H352.6M350 36.58H352.6M351.1 20.49H352.6M350 4.4H352.6M372.95 165.3V167.5M393.3 165.3V166.7M413.65 165.3V167.5M433.95 165.3V166.7M454.25 165.3V167.5M474.6 165.3V166.7M494.95 165.3V167.5M515.25 165.3V166.7M535.55 165.3V167.5" stroke="#333" stroke-width="0.9" fill="none"/><text transform="translate(348.8 168.6) scale(0.96 1)" text-anchor="end" font-size="9.8">0.00</text><text transform="translate(348.8 136.42) scale(0.96 1)" text-anchor="end" font-size="9.8">0.20</text><text transform="translate(348.8 104.24) scale(0.96 1)" text-anchor="end" font-size="9.8">0.40</text><text transform="translate(348.8 72.06) scale(0.96 1)" text-anchor="end" font-size="9.8">0.60</text><text transform="translate(348.8 39.88) scale(0.96 1)" text-anchor="end" font-size="9.8">0.80</text><text transform="translate(348.8 7.7) scale(0.96 1)" text-anchor="end" font-size="9.8">1.00</text><text transform="translate(372.95 176.8) scale(1.0 1)" text-anchor="middle" font-size="9.3">S1</text><text transform="translate(413.65 176.8) scale(1.0 1)" text-anchor="middle" font-size="9.3">S2</text><text transform="translate(454.25 176.8) scale(1.0 1)" text-anchor="middle" font-size="9.3">S3</text><text transform="translate(494.95 176.8) scale(1.0 1)" text-anchor="middle" font-size="9.3">E1</text><text transform="translate(535.55 176.8) scale(1.0 1)" text-anchor="middle" font-size="9.3">E2</text><text transform="translate(327.8 84.4) rotate(-90)" text-anchor="middle" font-size="10.9">Relative Abundance</text><text x="306.3" y="15" font-size="20.5">(c)</text><g class="lg"><rect x="559.2" y="63.3" width="14.8" height="7.3" fill="#e62823" stroke="#444" stroke-width="0.75"/><text transform="translate(576 68.97) scale(0.915 1)" font-size="7.2">Unclassified</text><rect x="559.2" y="71.6" width="14.8" height="7.3" fill="#f0969b" stroke="#444" stroke-width="0.75"/><text transform="translate(576 77.27) scale(0.915 1)" font-size="7.2">Rozellomycota</text><rect x="559.2" y="79.9" width="14.8" height="7.3" fill="#50af37" stroke="#444" stroke-width="0.75"/><text transform="translate(576 85.57) scale(0.915 1)" font-size="7.2">Mucoromycota</text><rect x="559.2" y="88.2" width="14.8" height="7.3" fill="#b8ea8c" stroke="#444" stroke-width="0.75"/><text transform="translate(576 93.87) scale(0.915 1)" font-size="7.2">Fungi_phy_Incertae_sedis</text><rect x="559.2" y="96.5" width="14.8" height="7.3" fill="#4682b4" stroke="#444" stroke-width="0.75"/><text transform="translate(576 102.17) scale(0.915 1)" font-size="7.2">Basidiomycota</text><rect x="559.2" y="104.8" width="14.8" height="7.3" fill="#add8e6" stroke="#444" stroke-width="0.75"/><text transform="translate(576 110.47) scale(0.915 1)" font-size="7.2">Ascomycota</text></g><g stroke="#3a3a3a" stroke-width="0.45" fill="none"><line x1="387.4" y1="307.4" x2="397.3" y2="370.2"/><line x1="387.4" y1="299.1" x2="397.3" y2="370"/><line x1="387.4" y1="271.3" x2="397.3" y2="369.8"/><line x1="387.4" y1="261" x2="397.3" y2="369.6"/><line x1="387.4" y1="257.6" x2="397.3" y2="369.4"/><line x1="387.4" y1="257.3" x2="397.3" y2="369.2"/><line x1="387.4" y1="257.1" x2="397.3" y2="369"/><line x1="387.4" y1="256.9" x2="397.3" y2="368.8"/><line x1="387.4" y1="255" x2="397.3" y2="368.6"/><line x1="387.4" y1="254.5" x2="397.3" y2="368.4"/><line x1="387.4" y1="250.6" x2="397.3" y2="368.2"/><line x1="387.4" y1="250.2" x2="397.3" y2="368"/><line x1="387.4" y1="246.3" x2="397.3" y2="367.8"/><line x1="387.4" y1="243" x2="397.3" y2="367.6"/><line x1="387.4" y1="241.2" x2="397.3" y2="367.4"/><line x1="387.4" y1="240" x2="397.3" y2="367.3"/><line x1="387.4" y1="235.8" x2="397.3" y2="367.2"/><line x1="387.4" y1="235.6" x2="397.3" y2="367.1"/><line x1="387.4" y1="235.5" x2="397.3" y2="367"/><line x1="387.4" y1="235.4" x2="397.3" y2="366.9"/><line x1="387.4" y1="235.3" x2="397.3" y2="366.8"/><line x1="387.4" y1="235.2" x2="397.3" y2="366.7"/><line x1="387.4" y1="220.4" x2="397.3" y2="366"/><line x1="387.4" y1="209.3" x2="397.3" y2="209.3"/><line x1="427.4" y1="370.2" x2="437.2" y2="345.3"/><line x1="427.4" y1="370" x2="437.2" y2="257"/><line x1="427.4" y1="369.8" x2="437.2" y2="245.6"/><line x1="427.4" y1="369.6" x2="437.2" y2="241.8"/><line x1="427.4" y1="369.4" x2="437.2" y2="241.5"/><line x1="427.4" y1="369.2" x2="437.2" y2="241.3"/><line x1="427.4" y1="369" x2="437.2" y2="241.1"/><line x1="427.4" y1="368.8" x2="437.2" y2="240.9"/><line x1="427.4" y1="368.6" x2="437.2" y2="238.4"/><line x1="427.4" y1="368.4" x2="437.2" y2="237.9"/><line x1="427.4" y1="368.2" x2="437.2" y2="235.8"/><line x1="427.4" y1="368" x2="437.2" y2="235.2"/><line x1="427.4" y1="367.8" x2="437.2" y2="233.2"/><line x1="427.4" y1="367.6" x2="437.2" y2="232.8"/><line x1="427.4" y1="367.4" x2="437.2" y2="232.5"/><line x1="427.4" y1="367.3" x2="437.2" y2="232.2"/><line x1="427.4" y1="367.2" x2="437.2" y2="231.9"/><line x1="427.4" y1="367.1" x2="437.2" y2="231.7"/><line x1="427.4" y1="367" x2="437.2" y2="231.6"/><line x1="427.4" y1="366.9" x2="437.2" y2="231.5"/><line x1="427.4" y1="366.8" x2="437.2" y2="231.4"/><line x1="427.4" y1="366.7" x2="437.2" y2="231.3"/><line x1="427.4" y1="366" x2="437.2" y2="219.2"/><line x1="427.4" y1="209.3" x2="437.2" y2="209.3"/><line x1="467.3" y1="345.3" x2="477.3" y2="339.6"/><line x1="467.3" y1="257" x2="477.3" y2="339.3"/><line x1="467.3" y1="245.6" x2="477.3" y2="327.9"/><line x1="467.3" y1="241.8" x2="477.3" y2="289.8"/><line x1="467.3" y1="241.5" x2="477.3" y2="289.6"/><line x1="467.3" y1="241.3" x2="477.3" y2="284.6"/><line x1="467.3" y1="241.1" x2="477.3" y2="266.5"/><line x1="467.3" y1="240.9" x2="477.3" y2="254.5"/><line x1="467.3" y1="238.4" x2="477.3" y2="249.8"/><line x1="467.3" y1="237.9" x2="477.3" y2="249.6"/><line x1="467.3" y1="235.8" x2="477.3" y2="249.4"/><line x1="467.3" y1="235.2" x2="477.3" y2="249.2"/><line x1="467.3" y1="233.2" x2="477.3" y2="249"/><line x1="467.3" y1="232.8" x2="477.3" y2="246.6"/><line x1="467.3" y1="232.5" x2="477.3" y2="243.6"/><line x1="467.3" y1="232.2" x2="477.3" y2="243.4"/><line x1="467.3" y1="231.9" x2="477.3" y2="243.2"/><line x1="467.3" y1="231.7" x2="477.3" y2="240.4"/><line x1="467.3" y1="231.6" x2="477.3" y2="240.2"/><line x1="467.3" y1="231.5" x2="477.3" y2="240"/><line x1="467.3" y1="231.4" x2="477.3" y2="237.6"/><line x1="467.3" y1="231.3" x2="477.3" y2="237.4"/><line x1="467.3" y1="219.2" x2="477.3" y2="225.1"/><line x1="467.3" y1="209.3" x2="477.3" y2="209.3"/><line x1="507.4" y1="339.6" x2="517.6" y2="370.2"/><line x1="507.4" y1="339.3" x2="517.6" y2="370.1"/><line x1="507.4" y1="327.9" x2="517.6" y2="368.7"/><line x1="507.4" y1="289.8" x2="517.6" y2="368.3"/><line x1="507.4" y1="289.6" x2="517.6" y2="325.5"/><line x1="507.4" y1="284.6" x2="517.6" y2="297.8"/><line x1="507.4" y1="266.5" x2="517.6" y2="297.7"/><line x1="507.4" y1="254.5" x2="517.6" y2="297.6"/><line x1="507.4" y1="249.8" x2="517.6" y2="297.5"/><line x1="507.4" y1="249.6" x2="517.6" y2="289.5"/><line x1="507.4" y1="249.4" x2="517.6" y2="289.3"/><line x1="507.4" y1="249.2" x2="517.6" y2="282.9"/><line x1="507.4" y1="249" x2="517.6" y2="282.5"/><line x1="507.4" y1="246.6" x2="517.6" y2="282.1"/><line x1="507.4" y1="243.6" x2="517.6" y2="281.7"/><line x1="507.4" y1="243.4" x2="517.6" y2="279.1"/><line x1="507.4" y1="243.2" x2="517.6" y2="278.9"/><line x1="507.4" y1="240.4" x2="517.6" y2="278.7"/><line x1="507.4" y1="240.2" x2="517.6" y2="275.3"/><line x1="507.4" y1="240" x2="517.6" y2="271.6"/><line x1="507.4" y1="237.6" x2="517.6" y2="271.2"/><line x1="507.4" y1="237.4" x2="517.6" y2="268.5"/><line x1="507.4" y1="225.1" x2="517.6" y2="225.5"/><line x1="507.4" y1="209.3" x2="517.6" y2="209.3"/></g><g stroke="#2a2a2a" stroke-width="0.5"><rect x="357.3" y="307.4" width="30.1" height="62.9" fill="#add8e6"/><rect x="357.3" y="299.1" width="30.1" height="8.3" fill="#4682b4"/><rect x="357.3" y="271.3" width="30.1" height="27.8" fill="#b8ea8c"/><rect x="357.3" y="261" width="30.1" height="10.3" fill="#50af37"/><rect x="357.3" y="257.6" width="30.1" height="3.4" fill="#f0969b"/><rect x="357.3" y="257.3" width="30.1" height="0.3" fill="#e62823"/><rect x="357.3" y="257.1" width="30.1" height="0.2" fill="#eebc6e"/><rect x="357.3" y="256.9" width="30.1" height="0.2" fill="#f08023"/><rect x="357.3" y="255" width="30.1" height="1.9" fill="#cdb4dc"/><rect x="357.3" y="254.5" width="30.1" height="0.5" fill="#693ca0"/><rect x="357.3" y="250.6" width="30.1" height="3.9" fill="#f5f59a"/><rect x="357.3" y="250.2" width="30.1" height="0.4" fill="#b25c2d"/><rect x="357.3" y="246.3" width="30.1" height="3.9" fill="#b8d8c8"/><rect x="357.3" y="243" width="30.1" height="3.3" fill="#f0f8b8"/><rect x="357.3" y="241.2" width="30.1" height="1.8" fill="#b8b8e0"/><rect x="357.3" y="240" width="30.1" height="1.2" fill="#e87070"/><rect x="357.3" y="235.8" width="30.1" height="4.2" fill="#80b8d8"/><rect x="357.3" y="235.6" width="30.1" height="0.2" fill="#f0a860"/><rect x="357.3" y="235.5" width="30.1" height="0.1" fill="#a8dc68"/><rect x="357.3" y="235.4" width="30.1" height="0.1" fill="#f5cce5"/><rect x="357.3" y="235.3" width="30.1" height="0.1" fill="#d8d8d8"/><rect x="357.3" y="235.2" width="30.1" height="0.1" fill="#b878c8"/><rect x="357.3" y="220.4" width="30.1" height="14.8" fill="#ea942c"/><rect x="357.3" y="209.3" width="30.1" height="11.1" fill="#b9a241"/><rect x="397.3" y="370.2" width="30.1" height="0.1" fill="#add8e6"/><rect x="397.3" y="370" width="30.1" height="0.2" fill="#4682b4"/><rect x="397.3" y="369.8" width="30.1" height="0.2" fill="#b8ea8c"/><rect x="397.3" y="369.6" width="30.1" height="0.2" fill="#50af37"/><rect x="397.3" y="369.4" width="30.1" height="0.2" fill="#f0969b"/><rect x="397.3" y="369.2" width="30.1" height="0.2" fill="#e62823"/><rect x="397.3" y="369" width="30.1" height="0.2" fill="#eebc6e"/><rect x="397.3" y="368.8" width="30.1" height="0.2" fill="#f08023"/><rect x="397.3" y="368.6" width="30.1" height="0.2" fill="#cdb4dc"/><rect x="397.3" y="368.4" width="30.1" height="0.2" fill="#693ca0"/><rect x="397.3" y="368.2" width="30.1" height="0.2" fill="#f5f59a"/><rect x="397.3" y="368" width="30.1" height="0.2" fill="#b25c2d"/><rect x="397.3" y="367.8" width="30.1" height="0.2" fill="#b8d8c8"/><rect x="397.3" y="367.6" width="30.1" height="0.2" fill="#f0f8b8"/><rect x="397.3" y="367.4" width="30.1" height="0.2" fill="#b8b8e0"/><rect x="397.3" y="367.3" width="30.1" height="0.1" fill="#e87070"/><rect x="397.3" y="367.2" width="30.1" height="0.1" fill="#80b8d8"/><rect x="397.3" y="367.1" width="30.1" height="0.1" fill="#f0a860"/><rect x="397.3" y="367" width="30.1" height="0.1" fill="#a8dc68"/><rect x="397.3" y="366.9" width="30.1" height="0.1" fill="#f5cce5"/><rect x="397.3" y="366.8" width="30.1" height="0.1" fill="#d8d8d8"/><rect x="397.3" y="366.7" width="30.1" height="0.1" fill="#b878c8"/><rect x="397.3" y="366" width="30.1" height="0.7" fill="#ea942c"/><rect x="397.3" y="209.3" width="30.1" height="156.7" fill="#b9a241"/><rect x="437.2" y="345.3" width="30.1" height="25" fill="#add8e6"/><rect x="437.2" y="257" width="30.1" height="88.3" fill="#4682b4"/><rect x="437.2" y="245.6" width="30.1" height="11.4" fill="#b8ea8c"/><rect x="437.2" y="241.8" width="30.1" height="3.8" fill="#50af37"/><rect x="437.2" y="241.5" width="30.1" height="0.3" fill="#f0969b"/><rect x="437.2" y="241.3" width="30.1" height="0.2" fill="#e62823"/><rect x="437.2" y="241.1" width="30.1" height="0.2" fill="#eebc6e"/><rect x="437.2" y="240.9" width="30.1" height="0.2" fill="#f08023"/><rect x="437.2" y="238.4" width="30.1" height="2.5" fill="#cdb4dc"/><rect x="437.2" y="237.9" width="30.1" height="0.5" fill="#693ca0"/><rect x="437.2" y="235.8" width="30.1" height="2.1" fill="#f5f59a"/><rect x="437.2" y="235.2" width="30.1" height="0.6" fill="#b25c2d"/><rect x="437.2" y="233.2" width="30.1" height="2" fill="#b8d8c8"/><rect x="437.2" y="232.8" width="30.1" height="0.4" fill="#f0f8b8"/><rect x="437.2" y="232.5" width="30.1" height="0.3" fill="#b8b8e0"/><rect x="437.2" y="232.2" width="30.1" height="0.3" fill="#e87070"/><rect x="437.2" y="231.9" width="30.1" height="0.3" fill="#80b8d8"/><rect x="437.2" y="231.7" width="30.1" height="0.2" fill="#f0a860"/><rect x="437.2" y="231.6" width="30.1" height="0.1" fill="#a8dc68"/><rect x="437.2" y="231.5" width="30.1" height="0.1" fill="#f5cce5"/><rect x="437.2" y="231.4" width="30.1" height="0.1" fill="#d8d8d8"/><rect x="437.2" y="231.3" width="30.1" height="0.1" fill="#b878c8"/><rect x="437.2" y="219.2" width="30.1" height="12.1" fill="#ea942c"/><rect x="437.2" y="209.3" width="30.1" height="9.9" fill="#b9a241"/><rect x="477.3" y="339.6" width="30.1" height="30.7" fill="#add8e6"/><rect x="477.3" y="339.3" width="30.1" height="0.3" fill="#4682b4"/><rect x="477.3" y="327.9" width="30.1" height="11.4" fill="#b8ea8c"/><rect x="477.3" y="289.8" width="30.1" height="38.1" fill="#50af37"/><rect x="477.3" y="289.6" width="30.1" height="0.2" fill="#f0969b"/><rect x="477.3" y="284.6" width="30.1" height="5" fill="#e62823"/><rect x="477.3" y="266.5" width="30.1" height="18.1" fill="#eebc6e"/><rect x="477.3" y="254.5" width="30.1" height="12" fill="#f08023"/><rect x="477.3" y="249.8" width="30.1" height="4.7" fill="#cdb4dc"/><rect x="477.3" y="249.6" width="30.1" height="0.2" fill="#693ca0"/><rect x="477.3" y="249.4" width="30.1" height="0.2" fill="#f5f59a"/><rect x="477.3" y="249.2" width="30.1" height="0.2" fill="#b25c2d"/><rect x="477.3" y="249" width="30.1" height="0.2" fill="#b8d8c8"/><rect x="477.3" y="246.6" width="30.1" height="2.4" fill="#f0f8b8"/><rect x="477.3" y="243.6" width="30.1" height="3" fill="#b8b8e0"/><rect x="477.3" y="243.4" width="30.1" height="0.2" fill="#e87070"/><rect x="477.3" y="243.2" width="30.1" height="0.2" fill="#80b8d8"/><rect x="477.3" y="240.4" width="30.1" height="2.8" fill="#f0a860"/><rect x="477.3" y="240.2" width="30.1" height="0.2" fill="#a8dc68"/><rect x="477.3" y="240" width="30.1" height="0.2" fill="#f5cce5"/><rect x="477.3" y="237.6" width="30.1" height="2.4" fill="#d8d8d8"/><rect x="477.3" y="237.4" width="30.1" height="0.2" fill="#b878c8"/><rect x="477.3" y="225.1" width="30.1" height="12.3" fill="#ea942c"/><rect x="477.3" y="209.3" width="30.1" height="15.8" fill="#b9a241"/><rect x="517.6" y="370.2" width="30.1" height="0.1" fill="#add8e6"/><rect x="517.6" y="370.1" width="30.1" height="0.1" fill="#4682b4"/><rect x="517.6" y="368.7" width="30.1" height="1.4" fill="#b8ea8c"/><rect x="517.6" y="368.3" width="30.1" height="0.4" fill="#50af37"/><rect x="517.6" y="325.5" width="30.1" height="42.8" fill="#f0969b"/><rect x="517.6" y="297.8" width="30.1" height="27.7" fill="#e62823"/><rect x="517.6" y="297.7" width="30.1" height="0.1" fill="#eebc6e"/><rect x="517.6" y="297.6" width="30.1" height="0.1" fill="#f08023"/><rect x="517.6" y="297.5" width="30.1" height="0.1" fill="#cdb4dc"/><rect x="517.6" y="289.5" width="30.1" height="8" fill="#693ca0"/><rect x="517.6" y="289.3" width="30.1" height="0.2" fill="#f5f59a"/><rect x="517.6" y="282.9" width="30.1" height="6.4" fill="#b25c2d"/><rect x="517.6" y="282.5" width="30.1" height="0.4" fill="#b8d8c8"/><rect x="517.6" y="282.1" width="30.1" height="0.4" fill="#f0f8b8"/><rect x="517.6" y="281.7" width="30.1" height="0.4" fill="#b8b8e0"/><rect x="517.6" y="279.1" width="30.1" height="2.6" fill="#e87070"/><rect x="517.6" y="278.9" width="30.1" height="0.2" fill="#80b8d8"/><rect x="517.6" y="278.7" width="30.1" height="0.2" fill="#f0a860"/><rect x="517.6" y="275.3" width="30.1" height="3.4" fill="#a8dc68"/><rect x="517.6" y="271.6" width="30.1" height="3.7" fill="#f5cce5"/><rect x="517.6" y="271.2" width="30.1" height="0.4" fill="#d8d8d8"/><rect x="517.6" y="268.5" width="30.1" height="2.7" fill="#b878c8"/><rect x="517.6" y="225.5" width="30.1" height="43" fill="#ea942c"/><rect x="517.6" y="209.3" width="30.1" height="16.2" fill="#b9a241"/></g><rect x="352.2" y="209.3" width="200.5" height="161" fill="none" stroke="#333" stroke-width="0.9"/><path d="M349.6 370.3H352.2M350.7 354.2H352.2M349.6 338.1H352.2M350.7 322H352.2M349.6 305.9H352.2M350.7 289.8H352.2M349.6 273.7H352.2M350.7 257.6H352.2M349.6 241.5H352.2M350.7 225.4H352.2M349.6 209.3H352.2M372.35 370.3V372.5M392.35 370.3V371.7M412.35 370.3V372.5M432.3 370.3V371.7M452.25 370.3V372.5M472.3 370.3V371.7M492.35 370.3V372.5M512.5 370.3V371.7M532.65 370.3V372.5" stroke="#333" stroke-width="0.9" fill="none"/><text transform="translate(348.4 373.6) scale(0.96 1)" text-anchor="end" font-size="9.8">0.00</text><text transform="translate(348.4 341.4) scale(0.96 1)" text-anchor="end" font-size="9.8">0.20</text><text transform="translate(348.4 309.2) scale(0.96 1)" text-anchor="end" font-size="9.8">0.40</text><text transform="translate(348.4 277) scale(0.96 1)" text-anchor="end" font-size="9.8">0.60</text><text transform="translate(348.4 244.8) scale(0.96 1)" text-anchor="end" font-size="9.8">0.80</text><text transform="translate(348.4 212.6) scale(0.96 1)" text-anchor="end" font-size="9.8">1.00</text><text transform="translate(372.35 381.8) scale(1.0 1)" text-anchor="middle" font-size="9.3">S1</text><text transform="translate(412.35 381.8) scale(1.0 1)" text-anchor="middle" font-size="9.3">S2</text><text transform="translate(452.25 381.8) scale(1.0 1)" text-anchor="middle" font-size="9.3">S3</text><text transform="translate(492.35 381.8) scale(1.0 1)" text-anchor="middle" font-size="9.3">E1</text><text transform="translate(532.65 381.8) scale(1.0 1)" text-anchor="middle" font-size="9.3">E2</text><text transform="translate(328.3 289.2) rotate(-90)" text-anchor="middle" font-size="10.9">Relative Abundance</text><text x="306.5" y="225" font-size="20.5">(d)</text><g class="lg"><rect x="557.3" y="192.7" width="15.1" height="7.2" fill="#b9a241" stroke="#444" stroke-width="0.75"/><text transform="translate(574.7 199) scale(0.93 1)" font-size="7.3" font-style="italic">Unclassified</text><rect x="557.3" y="201.4" width="15.1" height="7.2" fill="#ea942c" stroke="#444" stroke-width="0.75"/><text transform="translate(574.7 207.7) scale(0.93 1)" font-size="7.3" font-style="italic">Other</text><rect x="557.3" y="210.1" width="15.1" height="7.2" fill="#b878c8" stroke="#444" stroke-width="0.75"/><text transform="translate(574.7 216.4) scale(0.93 1)" font-size="7.3" font-style="italic">Ophiognomonia</text><rect x="557.3" y="218.8" width="15.1" height="7.2" fill="#d8d8d8" stroke="#444" stroke-width="0.75"/><text transform="translate(574.7 225.1) scale(0.93 1)" font-size="7.3" font-style="italic">Capronia</text><rect x="557.3" y="227.5" width="15.1" height="7.2" fill="#f5cce5" stroke="#444" stroke-width="0.75"/><text transform="translate(574.7 233.8) scale(0.93 1)" font-size="7.3" font-style="italic">Pseudopithomyces</text><rect x="557.3" y="236.2" width="15.1" height="7.2" fill="#a8dc68" stroke="#444" stroke-width="0.75"/><text transform="translate(574.7 242.5) scale(0.93 1)" font-size="7.3" font-style="italic">Phaeosphaeria</text><rect x="557.3" y="244.9" width="15.1" height="7.2" fill="#f0a860" stroke="#444" stroke-width="0.75"/><text transform="translate(574.7 251.2) scale(0.93 1)" font-size="7.3" font-style="italic">Apiotrichum</text><rect x="557.3" y="253.6" width="15.1" height="7.2" fill="#80b8d8" stroke="#444" stroke-width="0.75"/><text transform="translate(574.7 259.9) scale(0.93 1)" font-size="7.3" font-style="italic">Periconia</text><rect x="557.3" y="262.3" width="15.1" height="7.2" fill="#e87070" stroke="#444" stroke-width="0.75"/><text transform="translate(574.7 268.6) scale(0.93 1)" font-size="7.3" font-style="italic">Schizophyllum</text><rect x="557.3" y="271" width="15.1" height="7.2" fill="#b8b8e0" stroke="#444" stroke-width="0.75"/><text transform="translate(574.7 277.3) scale(0.93 1)" font-size="7.3" font-style="italic">Neocarpenteles</text><rect x="557.3" y="279.7" width="15.1" height="7.2" fill="#f0f8b8" stroke="#444" stroke-width="0.75"/><text transform="translate(574.7 286) scale(0.93 1)" font-size="7.3" font-style="italic">Malassezia</text><rect x="557.3" y="288.4" width="15.1" height="7.2" fill="#b8d8c8" stroke="#444" stroke-width="0.75"/><text transform="translate(574.7 294.7) scale(0.93 1)" font-size="7.3" font-style="italic">Penicillium</text><rect x="557.3" y="297.1" width="15.1" height="7.2" fill="#b25c2d" stroke="#444" stroke-width="0.75"/><text transform="translate(574.7 303.4) scale(0.93 1)" font-size="7.3" font-style="italic">Botrytis</text><rect x="557.3" y="305.8" width="15.1" height="7.2" fill="#f5f59a" stroke="#444" stroke-width="0.75"/><text transform="translate(574.7 312.1) scale(0.93 1)" font-size="7.3" font-style="italic">Wickerhamomyces</text><rect x="557.3" y="314.5" width="15.1" height="7.2" fill="#693ca0" stroke="#444" stroke-width="0.75"/><text transform="translate(574.7 320.8) scale(0.93 1)" font-size="7.3" font-style="italic">Neoascochyta</text><rect x="557.3" y="323.2" width="15.1" height="7.2" fill="#cdb4dc" stroke="#444" stroke-width="0.75"/><text transform="translate(574.7 329.5) scale(0.93 1)" font-size="7.3" font-style="italic">Trichoderma</text><rect x="557.3" y="331.9" width="15.1" height="7.2" fill="#f08023" stroke="#444" stroke-width="0.75"/><text transform="translate(574.7 338.2) scale(0.93 1)" font-size="7.3" font-style="italic">Ceratobasidiaceae_gen_Incertae_sedis</text><rect x="557.3" y="340.6" width="15.1" height="7.2" fill="#eebc6e" stroke="#444" stroke-width="0.75"/><text transform="translate(574.7 346.9) scale(0.93 1)" font-size="7.3" font-style="italic">Postia</text><rect x="557.3" y="349.3" width="15.1" height="7.2" fill="#e62823" stroke="#444" stroke-width="0.75"/><text transform="translate(574.7 355.6) scale(0.93 1)" font-size="7.3" font-style="italic">Alternaria</text><rect x="557.3" y="358" width="15.1" height="7.2" fill="#f0969b" stroke="#444" stroke-width="0.75"/><text transform="translate(574.7 364.3) scale(0.93 1)" font-size="7.3" font-style="italic">Cladosporium</text><rect x="557.3" y="366.7" width="15.1" height="7.2" fill="#50af37" stroke="#444" stroke-width="0.75"/><text transform="translate(574.7 373) scale(0.93 1)" font-size="7.3" font-style="italic">Thermoascus</text><rect x="557.3" y="375.4" width="15.1" height="7.2" fill="#b8ea8c" stroke="#444" stroke-width="0.75"/><text transform="translate(574.7 381.7) scale(0.93 1)" font-size="7.3" font-style="italic">Aspergillus</text><rect x="557.3" y="384.1" width="15.1" height="7.2" fill="#4682b4" stroke="#444" stroke-width="0.75"/><text transform="translate(574.7 390.4) scale(0.93 1)" font-size="7.3" font-style="italic">Thermomyces</text><rect x="557.3" y="392.8" width="15.1" height="7.2" fill="#add8e6" stroke="#444" stroke-width="0.75"/><text transform="translate(574.7 399.1) scale(0.93 1)" font-size="7.3" font-style="italic">Monascus</text></g>
</svg>
</body></html>
